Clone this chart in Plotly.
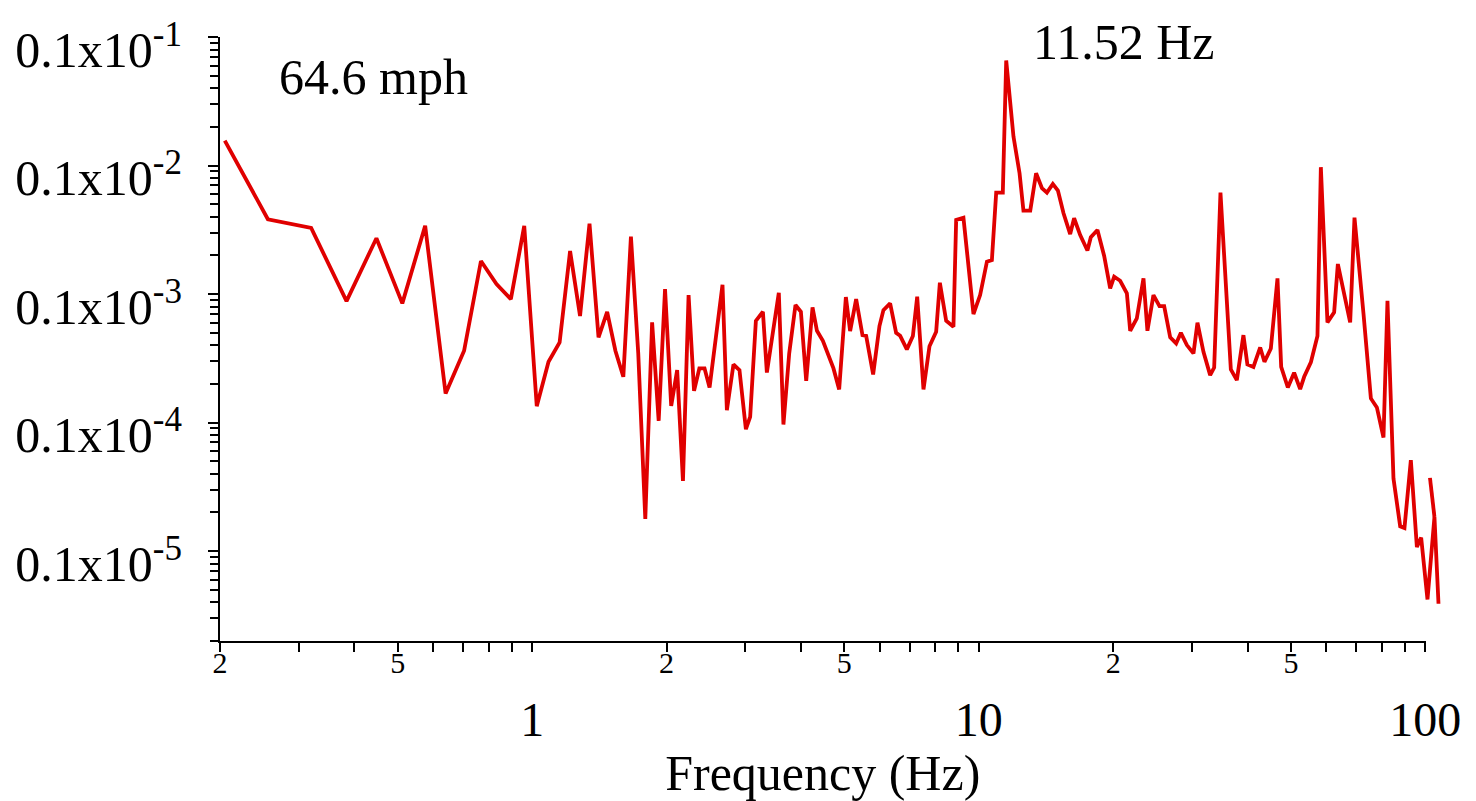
import math
import plotly.graph_objects as go

# ---- data ----
freq_hz = [0.205, 0.256, 0.320, 0.384, 0.448, 0.512, 0.576, 0.640, 0.704, 0.768,
           0.832, 0.896, 0.960, 1.024, 1.088, 1.152, 1.216, 1.280, 1.344, 1.408,
           1.472, 1.536, 1.600, 1.664, 1.728, 1.792, 1.856, 1.920, 1.984, 2.048,
           2.112, 2.176, 2.240, 2.304, 2.368, 2.432, 2.496, 2.668, 2.729, 2.823,
           2.912, 3.010, 3.077, 3.169, 3.286, 3.354, 3.567, 3.653, 3.763, 3.887,
           3.997, 4.108, 4.244, 4.342, 4.477, 4.728, 4.869, 5.040, 5.152, 5.314,
           5.490, 5.596, 5.801, 5.993, 6.117, 6.332, 6.531, 6.668, 6.902, 7.120,
           7.280, 7.520, 7.756, 8.028, 8.183, 8.453, 8.777, 8.900, 9.241, 9.730,
           10.07, 10.43, 10.70, 10.94, 11.32, 11.52, 11.96, 12.34, 12.59, 13.04,
           13.44, 13.85, 14.21, 14.65, 15.04, 15.48, 16.02, 16.35, 16.87, 17.51,
           17.82, 18.44, 19.09, 19.69, 20.10, 20.73, 21.46, 21.83, 22.59, 23.38,
           23.86, 24.61, 25.39, 26.01, 26.83, 27.67, 28.35, 29.24, 30.25, 30.88,
           31.85, 32.97, 33.66, 34.77, 36.68, 37.83, 39.14, 39.95, 41.21, 42.67,
           43.62, 45.08, 46.65, 47.55, 49.21, 50.83, 52.44, 53.53, 55.41, 57.33,
           58.34, 60.36, 62.48, 63.69, 67.86, 69.39, 72.68, 75.51, 77.88, 80.58,
           82.25, 84.84, 87.82, 89.78, 92.79, 95.72, 97.86, 101.1, 104.8, 107.0,
           None, 102.4, 104.8]

psd = [1.565e-3, 3.82e-4, 3.27e-4, 8.82e-5, 2.72e-4, 8.46e-5, 3.40e-4, 1.684e-5, 3.62e-5, 1.808e-4,
       1.196e-4, 9.14e-5, 3.39e-4, 1.341e-5, 2.97e-5, 4.20e-5, 2.16e-4, 6.74e-5, 3.53e-4, 4.60e-5,
       7.28e-5, 3.62e-5, 2.27e-5, 2.80e-4, 3.45e-5, 1.781e-6, 6.02e-5, 1.030e-5, 1.094e-4, 1.348e-5,
       2.56e-5, 3.51e-6, 9.82e-5, 1.764e-5, 2.64e-5, 2.64e-5, 1.875e-5, 1.181e-4, 1.248e-5, 2.83e-5,
       2.56e-5, 8.88e-6, 1.107e-5, 6.19e-5, 7.28e-5, 2.45e-5, 1.023e-4, 9.66e-6, 3.45e-5, 8.21e-5,
       7.28e-5, 2.11e-5, 7.88e-5, 5.18e-5, 4.33e-5, 2.64e-5, 1.809e-5, 9.48e-5, 5.15e-5, 9.14e-5,
       4.79e-5, 4.73e-5, 2.37e-5, 5.63e-5, 7.50e-5, 8.46e-5, 4.99e-5, 4.73e-5, 3.71e-5, 4.71e-5,
       9.53e-5, 1.809e-5, 3.93e-5, 5.09e-5, 1.225e-4, 6.19e-5, 5.56e-5, 3.77e-4, 3.93e-4, 6.99e-5,
       9.82e-5, 1.785e-4, 1.840e-4, 6.16e-4, 6.16e-4, 6.57e-3, 1.681e-3, 8.72e-4, 4.46e-4, 4.46e-4,
       8.72e-4, 6.66e-4, 6.16e-4, 7.19e-4, 6.38e-4, 4.25e-4, 2.93e-4, 3.89e-4, 2.88e-4, 2.18e-4,
       2.77e-4, 3.15e-4, 1.978e-4, 1.108e-4, 1.364e-4, 1.269e-4, 1.012e-4, 5.18e-5, 6.47e-5, 1.326e-4,
       5.18e-5, 9.82e-5, 8.06e-5, 8.06e-5, 4.60e-5, 4.13e-5, 4.99e-5, 4.01e-5, 3.45e-5, 5.98e-5,
       3.55e-5, 2.34e-5, 2.68e-5, 6.16e-4, 2.59e-5, 2.14e-5, 4.79e-5, 2.83e-5, 2.71e-5, 3.84e-5,
       2.97e-5, 3.77e-5, 1.326e-4, 2.71e-5, 1.875e-5, 2.44e-5, 1.819e-5, 2.27e-5, 2.94e-5, 4.71e-5,
       9.71e-4, 6.02e-5, 7.20e-5, 1.713e-4, 6.02e-5, 3.93e-4, 7.07e-5, 1.540e-5, 1.311e-5, 7.65e-6,
       8.87e-5, 3.67e-6, 1.557e-6, 1.511e-6, 5.09e-6, 1.074e-6, 1.272e-6, 4.20e-7, 1.840e-6, 3.89e-7,
       None, 3.71e-6, 1.840e-6]

x_major_vals = [1, 10, 100]
x_major_text = ["1", "10", "100"]
x_small_vals = [0.2, 0.5, 2, 5, 20, 50]
x_small_text = ["2", "5", "2", "5", "2", "5"]
x_minor_vals = [0.3, 0.4, 0.6, 0.7, 0.8, 0.9, 3, 4, 6, 7, 8, 9, 30, 40, 60, 70, 80, 90]

y_major_vals = [1e-6, 1e-5, 1e-4, 1e-3, 1e-2]
y_major_text = ["0.1x10<sup>-5</sup>", "0.1x10<sup>-4</sup>", "0.1x10<sup>-3</sup>",
                "0.1x10<sup>-2</sup>", "0.1x10<sup>-1</sup>"]
y_minor_vals = [m * 10.0 ** e for e in range(-7, -2) for m in range(2, 10)]

speed_label = "64.6 mph"
peak_label = "11.52 Hz"
x_title = "Frequency (Hz)"

# ---- layout geometry ----
W, H = 1476, 801
ML, MR, MT, MB = 220, 30, 37, 160
X_LO = math.log10(0.2)
X_AX_HI = 2.0004          # end of the drawn frequency axis (100 Hz)
X_HI = 2.0462             # the data region runs a little past 100 Hz
Y_LO, Y_HI = -6.7, -1.9995
axis_dom = (X_AX_HI - X_LO) / (X_HI - X_LO)

FONT = "Liberation Serif, Times New Roman, serif"
RED = "#e00000"
tickstyle = dict(tickwidth=2, tickcolor="black")

fig = go.Figure()
# the data curve on its own (hidden) x axis that spans the full plot width
fig.add_trace(go.Scatter(x=freq_hz, y=psd, mode="lines",
                         line=dict(color=RED, width=3.8),
                         connectgaps=False, showlegend=False,
                         xaxis="x3", yaxis="y"))
# empty traces so the decorative tick axes get drawn
fig.add_trace(go.Scatter(x=[None], y=[None], xaxis="x", yaxis="y",
                         showlegend=False, hoverinfo="skip"))
fig.add_trace(go.Scatter(x=[None], y=[None], xaxis="x2", yaxis="y2",
                         showlegend=False, hoverinfo="skip"))

fig.update_layout(
    width=W, height=H,
    margin=dict(l=ML, r=MR, t=MT, b=MB, autoexpand=False),
    paper_bgcolor="white", plot_bgcolor="white",
    font=dict(family=FONT, color="black"),
    showlegend=False,
    # axis line + outside ticks + small "2"/"5" labels
    xaxis=dict(type="log", anchor="y", domain=[0, axis_dom], range=[X_LO, X_AX_HI],
               automargin=False, showgrid=False, zeroline=False,
               showline=True, linecolor="black", linewidth=2,
               ticks="outside", ticklen=9, **tickstyle,
               tickmode="array", tickvals=x_small_vals, ticktext=x_small_text,
               tickfont=dict(family=FONT, size=30, color="black"),
               ticklabelstandoff=-15,
               minor=dict(tickmode="array", tickvals=x_minor_vals + x_major_vals,
                          ticks="outside", ticklen=9, **tickstyle)),
    # inside ticks + big decade labels + title
    xaxis2=dict(type="log", anchor="y", overlaying="x", range=[X_LO, X_AX_HI],
                automargin=False, showgrid=False, zeroline=False, showline=False,
                ticks="inside", ticklen=10, **tickstyle,
                tickmode="array", tickvals=x_major_vals, ticktext=x_major_text,
                tickfont=dict(family=FONT, size=48, color="black"),
                ticklabelstandoff=46,
                title=dict(text=x_title, font=dict(family=FONT, size=50, color="black"),
                           standoff=10),
                minor=dict(tickmode="array", tickvals=x_minor_vals + x_small_vals,
                           ticks="inside", ticklen=9, **tickstyle)),
    # data x axis (hidden)
    xaxis3=dict(type="log", anchor="y", domain=[0, 1], range=[X_LO, X_HI],
                automargin=False, visible=False, showticklabels=False,
                showgrid=False, zeroline=False),
    yaxis=dict(type="log", range=[Y_LO, Y_HI], domain=[0, 1], anchor="x",
               automargin=False, showgrid=False, zeroline=False,
               showline=True, linecolor="black", linewidth=2,
               ticks="outside", ticklen=10, **tickstyle,
               tickmode="array", tickvals=y_major_vals, ticktext=y_major_text,
               tickfont=dict(family=FONT, size=50, color="black"),
               ticklabelstandoff=16, ticklabelshift=12,
               minor=dict(tickmode="array", tickvals=y_minor_vals, ticks="outside",
                          ticklen=8, **tickstyle)),
    yaxis2=dict(type="log", range=[Y_LO, Y_HI], anchor="x", overlaying="y",
                automargin=False, showgrid=False, zeroline=False, showline=False,
                ticks="inside", ticklen=10, **tickstyle,
                tickmode="array", tickvals=y_major_vals, showticklabels=False,
                minor=dict(tickmode="array", tickvals=y_minor_vals, ticks="inside",
                           ticklen=8, **tickstyle)),
    annotations=[
        dict(text=speed_label, xref="paper", yref="paper",
             x=(373 - ML) / (W - ML - MR), y=(H - MB - 77) / (H - MB - MT),
             xanchor="center", yanchor="middle", showarrow=False,
             font=dict(family=FONT, size=50, color="black")),
        dict(text=peak_label, xref="paper", yref="paper",
             x=(1123 - ML) / (W - ML - MR), y=(H - MB - 42) / (H - MB - MT),
             xanchor="center", yanchor="middle", showarrow=False,
             font=dict(family=FONT, size=50, color="black")),
    ],
)

fig.write_html("out.html", config={"displayModeBar": False},
               post_script="document.body.style.margin='0';")
